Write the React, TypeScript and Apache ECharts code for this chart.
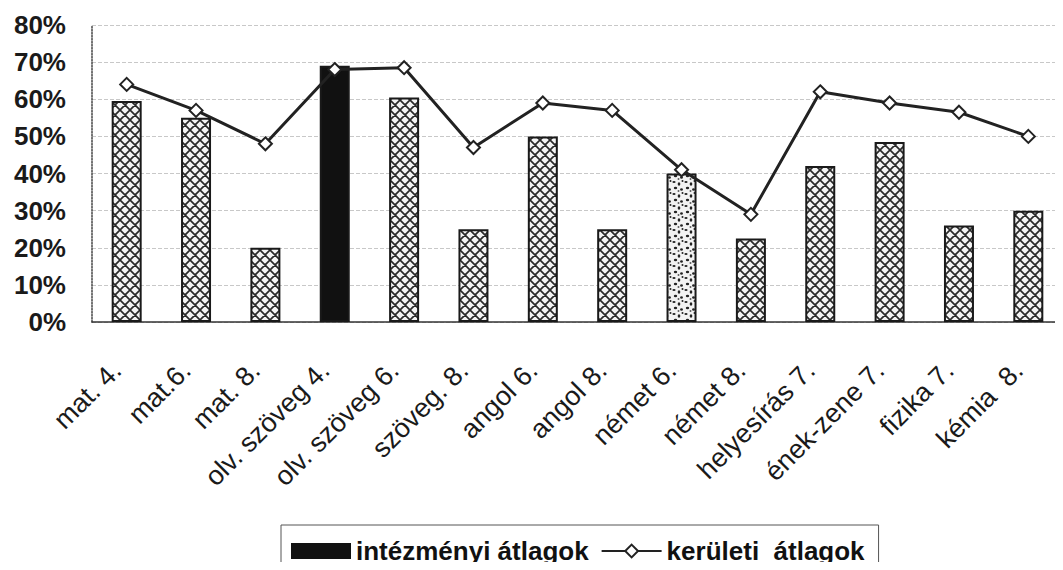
import React, { useEffect, useRef } from "react";
import * as echarts from "echarts";

const categories = [
  "mat. 4.", "mat.6.", "mat. 8.", "olv. szöveg 4.", "olv. szöveg 6.", "szöveg. 8.",
  "angol 6.", "angol 8.", "német 6.", "német 8.", "helyesírás 7.", "ének-zene 7.",
  "fizika 7.", "kémia  8.",
];
const intezmenyi = [59.5, 55, 20, 69, 60.5, 25, 50, 25, 40, 22.5, 42, 48.5, 26, 30];
const keruleti = [64, 57, 48, 68, 68.5, 47, 59, 57, 41, 29, 62, 59, 56.5, 50];
// pattern per bar: "hatch" | "solid" | "dots"
const barPatterns = ["hatch", "hatch", "hatch", "solid", "hatch", "hatch", "hatch", "hatch", "dots", "hatch", "hatch", "hatch", "hatch", "hatch"];
const yTicks = [0, 10, 20, 30, 40, 50, 60, 70, 80];

const hatchSvg =
  'data:image/svg+xml;utf8,' +
  encodeURIComponent(
    '<svg xmlns="http://www.w3.org/2000/svg" width="10" height="10"><rect width="10" height="10" fill="#f4f4f4"/><path d="M-1,-1 L11,11 M-1,11 L11,-1 M-1,9 L1,11 M9,-1 L11,1 M9,11 L11,9 M-1,1 L1,-1" stroke="#2a2a2a" stroke-width="1.7"/></svg>'
  );
const dotsSvg =
  'data:image/svg+xml;utf8,' +
  encodeURIComponent(
    '<svg xmlns="http://www.w3.org/2000/svg" width="12" height="12"><rect width="12" height="12" fill="#f2f2f2"/><ellipse cx="2" cy="2" rx="1.6" ry="1.1" fill="#222"/><ellipse cx="7" cy="4" rx="1.3" ry="1.7" fill="#222"/><ellipse cx="3.5" cy="8" rx="1.7" ry="1.2" fill="#222"/><ellipse cx="9.5" cy="9.5" rx="1.4" ry="1.3" fill="#222"/><ellipse cx="10.5" cy="1" rx="1" ry="1" fill="#222"/><ellipse cx="6.5" cy="11" rx="1" ry="0.8" fill="#222"/></svg>'
  );

function patternFill(kind: string): any {
  if (kind === "solid") return "#111";
  if (kind === "dots") return { image: dotsSvg, imageWidth: 12, imageHeight: 12, repeat: "repeat" };
  return { image: hatchSvg, imageWidth: 10, imageHeight: 10, repeat: "repeat" };
}

export default function App() {
  const ref = useRef<HTMLDivElement>(null);
  useEffect(() => {
    if (!ref.current) return;
    const chart = echarts.init(ref.current, undefined, { renderer: "svg" });
    const font = "'Liberation Sans', Arial, sans-serif";
    chart.setOption({
      animation: false,
      backgroundColor: "#fff",
      textStyle: { fontFamily: font },
      grid: { left: 92, right: 0, top: 25, bottom: 248, containLabel: false },
      legend: {
        left: 281,
        top: 525,
        padding: [13, 14, 13, 10],
        borderColor: "#555",
        borderWidth: 1,
        itemWidth: 60,
        itemHeight: 16,
        itemGap: 12,
        textStyle: { fontSize: 26, fontWeight: "bold", color: "#111", fontFamily: font },
        data: [
          { name: "intézményi átlagok", icon: "rect", itemStyle: { color: "#111", borderWidth: 0 } },
          { name: "kerületi  átlagok" },
        ],
      },
      xAxis: {
        type: "category",
        data: categories,
        axisLine: { lineStyle: { color: "#333", width: 1.5 } },
        axisTick: { show: false },
        axisLabel: {
          rotate: 45,
          interval: 0,
          margin: 34,
          padding: [0, 14, 0, 0],
          fontSize: 27,
          color: "#1a1a1a",
          fontFamily: font,
        },
      },
      yAxis: {
        type: "value",
        min: 0,
        max: 80,
        interval: 10,
        axisLine: { show: true, lineStyle: { color: "#444", width: 1.5, type: "dotted" } },
        axisTick: { show: false },
        splitLine: { show: true, lineStyle: { color: "#c8c8c8", type: "dashed", width: 1 } },
        axisLabel: {
          margin: 26,
          fontSize: 26,
          fontWeight: "bold",
          color: "#1a1a1a",
          fontFamily: font,
          formatter: (v: number) => (yTicks.includes(v) ? v + "%" : ""),
        },
      },
      series: [
        {
          name: "intézményi átlagok",
          type: "bar",
          barWidth: 30,
          itemStyle: { color: "#111", borderColor: "#1a1a1a", borderWidth: 2 },
          data: intezmenyi.map((v, i) => ({
            value: v,
            itemStyle: { color: patternFill(barPatterns[i]) },
          })),
          z: 2,
        },
        {
          name: "kerületi  átlagok",
          type: "line",
          data: keruleti,
          symbol: "diamond",
          symbolSize: 13,
          lineStyle: { color: "#222", width: 3 },
          itemStyle: { color: "#fff", borderColor: "#222", borderWidth: 2 },
          z: 3,
        },
      ],
    });
    return () => chart.dispose();
  }, []);
  return <div ref={ref} style={{ width: 1063, height: 570, margin: -8 }} />;
}
